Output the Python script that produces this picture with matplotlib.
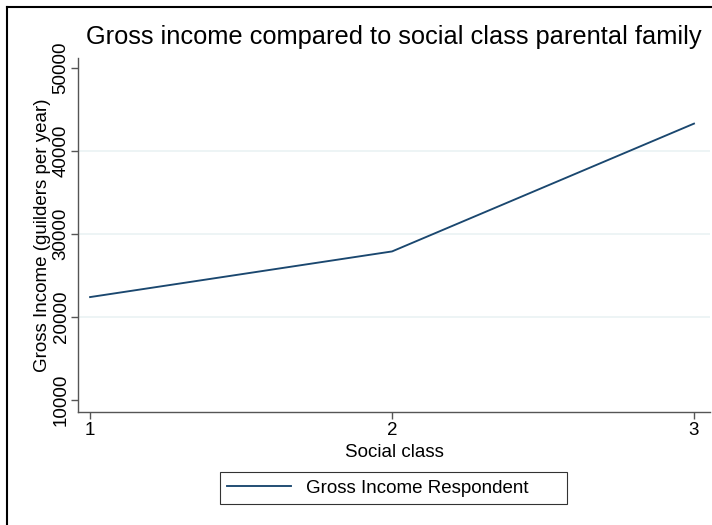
import matplotlib
matplotlib.use("Agg")
import matplotlib.pyplot as plt
from matplotlib.lines import Line2D

social_class = [1, 2, 3]
gross_income = [22400, 27900, 43300]
y_ticks = [10000, 20000, 30000, 40000, 50000]
grid_values = [20000, 30000, 40000]
x_ticks = [1, 2, 3]

title = "Gross income compared to social class parental family"
xlabel = "Social class"
ylabel = "Gross Income (guilders per year)"
series_label = "Gross Income Respondent"

plt.rcParams['font.family'] = ['Liberation Sans', 'DejaVu Sans']

W, H = 712, 525
fig = plt.figure(figsize=(W / 100, H / 100), dpi=100)
fig.patch.set_facecolor('white')

ax = fig.add_axes([78 / W, (H - 412) / H, (710 - 78) / W, (412 - 58) / H])
ax.set_facecolor('white')

for g in grid_values:
    ax.axhline(g, color='#eaf2f3', lw=1.2, zorder=0)

line, = ax.plot(social_class, gross_income, color='#1a476f', lw=1.35, label=series_label)

ax.set_xlim(0.96, 3.053)
ax.set_ylim(8554, 51205)
ax.set_xticks(x_ticks)
ax.set_yticks(y_ticks)
ax.set_xticklabels([str(v) for v in x_ticks])
ax.set_yticklabels([str(v) for v in y_ticks], rotation=90, va='center')

for s in ['top', 'right']:
    ax.spines[s].set_visible(False)
for s in ['left', 'bottom']:
    ax.spines[s].set_color('#555555')
    ax.spines[s].set_linewidth(1.0)
ax.tick_params(axis='both', direction='out', length=5, width=1.0, color='#555555',
               labelsize=13.5, labelcolor='black')
ax.tick_params(axis='x', pad=2)
ax.tick_params(axis='y', pad=1)

ax.set_xlabel(xlabel, fontsize=13.5, labelpad=4)
ax.set_ylabel(ylabel, fontsize=13.5, labelpad=1)
ax.set_title(title, fontsize=18.3, pad=10)

leg = fig.legend(handles=[line], loc='center',
                 bbox_to_anchor=(220 / W, 1 - 504 / H, 347 / W, 32 / H), mode='expand',
                 frameon=True, fancybox=False, fontsize=13.5, handlelength=3.4,
                 borderpad=0.4, handletextpad=0.8, borderaxespad=0)
leg.get_frame().set_edgecolor('black')
leg.get_frame().set_linewidth(0.8)

# outer frame (left and top edges visible)
fig.add_artist(Line2D([7 / W, 7 / W], [0, 1 - 7 / H], color='black', lw=1.5,
                      transform=fig.transFigure))
fig.add_artist(Line2D([7 / W, 1], [1 - 7 / H, 1 - 7 / H], color='black', lw=1.5,
                      transform=fig.transFigure))

fig.savefig('out.png', dpi=100, facecolor='white')
